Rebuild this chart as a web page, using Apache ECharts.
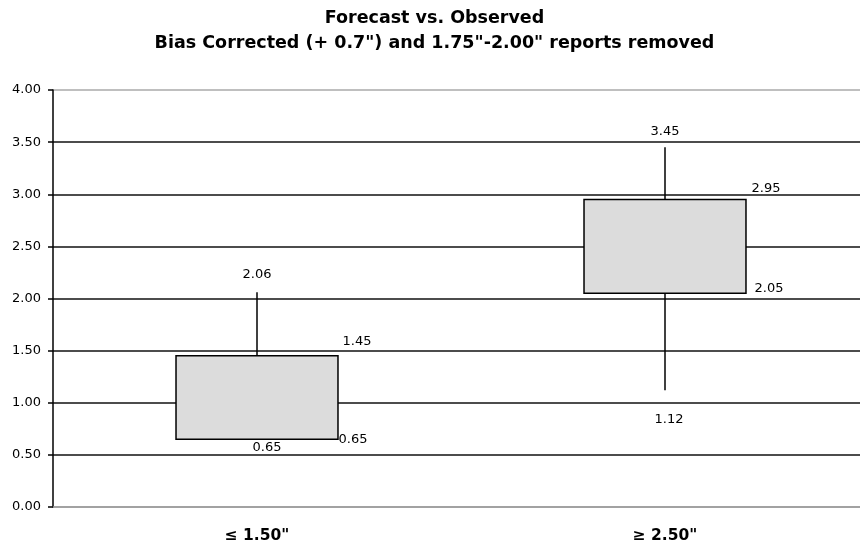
<!DOCTYPE html>
<html>
<head>
<meta charset="utf-8">
<script src="https://cdn.jsdelivr.net/npm/echarts@6/dist/echarts.min.js"></script>
<style>html,body{margin:0;padding:0;background:#fff;overflow:hidden}#c{width:869px;height:550px}</style>
</head>
<body>
<div id="c"></div>
<script>
const categories = ['\u2264 1.50"', '\u2265 2.50"'];
const lowValues = [0.65, 1.12];
const q1Values = [0.65, 2.05];
const q3Values = [1.45, 2.95];
const highValues = [2.06, 3.45];
const yTicks = [0, 0.5, 1, 1.5, 2, 2.5, 3, 3.5, 4];

// label offsets (layout only): [dx, dy] relative to anchor points
const labelLayout = [
  { high: [0, -18], q3: [19, -14], q1: [15, 0], low: [10, 8] },
  { high: [0, -16], q3: [20, -11], q1: [23, -5], low: [4, 29] }
];

const chart = echarts.init(document.getElementById('c'));
const data = categories.map((c, i) => [i, lowValues[i], q1Values[i], q3Values[i], highValues[i]]);
const fmt = v => v.toFixed(2);
const lblStyle = { fill: '#000', font: '13px "DejaVu Sans", sans-serif', align: 'center', verticalAlign: 'middle' };

chart.setOption({
  animation: false,
  backgroundColor: '#fff',
  title: {
    text: 'Forecast vs. Observed\nBias Corrected (+ 0.7") and 1.75"-2.00" reports removed',
    left: 'center', top: 1, padding: [5, 0, 5, 8],
    textStyle: { fontFamily: 'DejaVu Sans', fontWeight: 'bold', fontSize: 17.5, lineHeight: 25, color: '#000' }
  },
  grid: { left: 53, right: 0, top: 90, bottom: 43, containLabel: false },
  xAxis: {
    type: 'category', data: categories, boundaryGap: true,
    axisLine: { lineStyle: { color: '#999', width: 1.5 } },
    axisTick: { show: false },
    axisLabel: { margin: 21, color: '#000', fontFamily: 'DejaVu Sans', fontWeight: 'bold', fontSize: 15.5 },
    splitLine: { show: false }
  },
  yAxis: {
    type: 'value', min: yTicks[0], max: yTicks[yTicks.length - 1], interval: 0.5,
    axisLine: { show: true, lineStyle: { color: '#000', width: 1.5 } },
    axisTick: { show: true, length: 5, lineStyle: { color: '#000', width: 1.5 } },
    axisLabel: { margin: 12, color: '#000', fontFamily: 'DejaVu Sans', fontSize: 13, formatter: v => fmt(v) },
    splitLine: { show: true, lineStyle: { color: ['#aaa', '#111', '#111', '#111', '#111', '#111', '#111', '#111', '#aaa'], width: 1.5 } }
  },
  series: [{
    type: 'custom',
    data: data,
    encode: { x: 0, y: [1, 2, 3, 4] },
    renderItem: function (params, api) {
      const i = api.value(0);
      const low = api.value(1), q1 = api.value(2), q3 = api.value(3), high = api.value(4);
      const pLow = api.coord([i, low]), pQ1 = api.coord([i, q1]), pQ3 = api.coord([i, q3]), pHigh = api.coord([i, high]);
      const bw = api.size([1, 0])[0] * 0.397;
      const x = pHigh[0];
      const L = labelLayout[i];
      const children = [
        { type: 'line', shape: { x1: x, y1: pQ3[1], x2: x, y2: pHigh[1] }, style: { stroke: '#000', lineWidth: 1.5 } },
        { type: 'line', shape: { x1: x, y1: pQ1[1], x2: x, y2: pLow[1] }, style: { stroke: '#000', lineWidth: 1.5 } },
        { type: 'rect', shape: { x: x - bw / 2, y: pQ3[1], width: bw, height: pQ1[1] - pQ3[1] }, style: { fill: '#dcdcdc', stroke: '#000', lineWidth: 1.5 } },
        { type: 'text', x: x + L.high[0], y: pHigh[1] + L.high[1], style: Object.assign({ text: fmt(high) }, lblStyle) },
        { type: 'text', x: x + bw / 2 + L.q3[0], y: pQ3[1] + L.q3[1], style: Object.assign({ text: fmt(q3) }, lblStyle) },
        { type: 'text', x: x + bw / 2 + L.q1[0], y: pQ1[1] + L.q1[1], style: Object.assign({ text: fmt(q1) }, lblStyle) },
        { type: 'text', x: x + L.low[0], y: pLow[1] + L.low[1], style: Object.assign({ text: fmt(low) }, lblStyle) }
      ];
      return { type: 'group', children: children };
    }
  }]
});
</script>
</body>
</html>
